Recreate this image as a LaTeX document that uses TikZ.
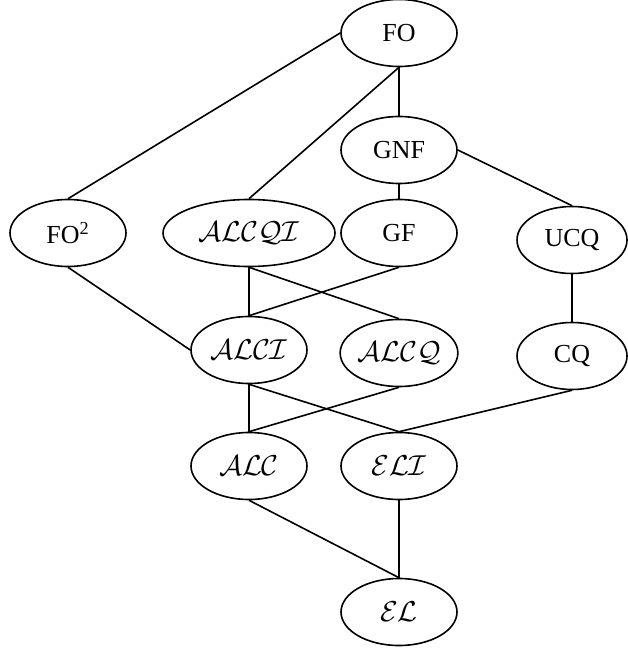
\documentclass[tikz,border=0pt]{standalone}
\usepackage{fontspec}
\setmainfont{Liberation Serif}
\usetikzlibrary{positioning,shapes.geometric}

\begin{document}
\begin{tikzpicture}[node distance=58pt,on grid,line width=0.8pt,
    lang/.style={draw,ellipse,inner sep=0pt,minimum width=58pt,minimum height=33.5pt,
      font=\fontsize{13}{15}\selectfont},
    dl/.style={lang,font=\fontsize{14.5}{16}\selectfont}]
    \useasboundingbox (0,0) rectangle (313.5pt,-325.5pt);
    \node[lang] (FO) at (199.5pt,-16.5pt) {FO};
    \node[lang] (GNF) [below=58.5pt of FO] {GNF};
    \node[lang] (GF) [below=41.5pt of GNF] {GF};
    \node[dl,minimum width=86pt] (ALCQI) [left=75pt of GF] {$\mathcal{ALCQI}$};
    \node[lang] (FO2) [left=90.5pt of ALCQI] {FO\textsuperscript{2}};
    \node[lang,minimum width=55pt] (UCQ) [below right=3.5pt and 86.5pt of GF] {UCQ};
    \node[dl] (ALCI) [below=58.5pt of ALCQI] {$\mathcal{ALCI}$};
    \node[dl] (ALCQ) [below right=60pt and 75pt of ALCQI] {$\mathcal{ALCQ}$};
    \node[lang,minimum width=55pt] (CQ) [below=58pt of UCQ] {CQ};
    \node[dl] (ALC) [below=of ALCI] {$\mathcal{ALC}$};
    \node[dl] (ELI) [right=75pt of ALC] {$\mathcal{ELI}$};
    \node[dl] (EL) [below=73pt of ELI] {$\mathcal{EL}$};

    \path
    (FO.west) edge (FO2.north)
    (FO.south) edge (ALCQI.north)
    (FO.south) edge (GNF.north)
    (GNF.south) edge (GF.north)
    (GNF.east) edge (UCQ.north)
    (FO2.south) edge (ALCI.west)
    (ALCQI.south) edge (ALCI.north)
    (ALCQI.south) edge (ALCQ.north)
    (GF.south) edge (ALCI.north)
    (UCQ.south) edge (CQ.north)
    (ALCI.south) edge (ALC.north)
    (ALCI.south) edge (ELI.north)
    (ALCQ.south) edge (ALC.north)
    (CQ.south) edge (ELI.north)
    (ALC.south) edge (EL.north)
    (ELI.south) edge (EL.north);
\end{tikzpicture}
\end{document}
